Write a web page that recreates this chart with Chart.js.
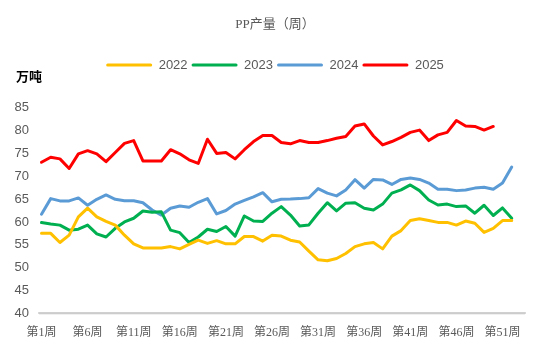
<!DOCTYPE html>
<html>
<head>
<meta charset="utf-8">
<script src="https://cdn.jsdelivr.net/npm/chart.js@4"></script>
<style>html,body{margin:0;padding:0;background:#fff;}</style>
</head>
<body>
<canvas id="c" width="550" height="356"></canvas>
<script>
// ---- data ----
const weeks = [1,2,3,4,5,6,7,8,9,10,11,12,13,14,15,16,17,18,19,20,21,22,23,24,25,26,
               27,28,29,30,31,32,33,34,35,36,37,38,39,40,41,42,43,44,45,46,47,48,49,50,51,52];
const tickWeeks = [1,6,11,16,21,26,31,36,41,46,51];
const yTicks = [40,45,50,55,60,65,70,75,80,85];
const seriesNames = ['2022','2023','2024','2025'];
const v2022 = [57.5,57.5,55.5,57.1,61.1,63.0,61.1,60.1,59.3,57.1,55.2,54.3,54.3,54.3,54.6,54.1,55.1,56.0,
               55.3,55.9,55.2,55.2,56.8,56.8,55.8,57.1,56.9,56.0,55.6,53.6,51.7,51.5,52.0,53.1,54.6,
               55.2,55.5,54.1,56.9,58.1,60.3,60.7,60.3,59.9,59.9,59.3,60.2,59.7,57.7,58.6,60.3,60.3];
const v2023 = [59.85,59.55,59.3,58.2,58.4,59.3,57.4,56.7,58.6,60.0,60.8,62.4,62.1,62.2,58.2,57.65,55.5,56.7,
               58.4,57.9,59.0,56.9,61.3,60.2,60.1,61.9,63.35,61.5,59.1,59.35,61.9,64.2,62.4,64.1,64.2,
               63.0,62.6,63.9,66.3,67.0,68.1,66.85,64.8,63.7,63.9,63.35,63.5,61.9,63.65,61.4,63.06,60.8];
const v2024 = [61.7,65.1,64.6,64.6,65.25,63.65,64.95,65.9,64.95,64.65,64.65,64.2,62.6,61.5,63.0,63.5,63.2,64.3,
               65.1,61.75,62.5,63.9,64.7,65.5,66.4,64.4,64.95,65.0,65.1,65.3,67.3,66.3,65.7,67.0,69.25,
               67.4,69.3,69.2,68.2,69.3,69.6,69.3,68.5,67.15,67.15,66.85,67.0,67.4,67.6,67.15,68.5,72.0];
const v2025 = [73.05,74.15,73.8,71.7,74.9,75.6,74.9,73.2,75.2,77.2,77.8,73.35,73.35,73.35,75.8,74.9,73.6,72.8,
               78.1,75.0,75.2,73.8,75.8,77.6,78.9,78.9,77.4,77.1,77.8,77.4,77.4,77.8,78.3,78.7,81.0,
               81.45,78.8,76.85,77.6,78.5,79.6,80.1,77.8,79.05,79.6,82.2,81.0,80.9,80.1,80.9];
const colors = ['#FFC000','#00B050','#5B9BD5','#FF0000'];

const datasets = [v2022, v2023, v2024, v2025].map((vals, i) => ({
  label: seriesNames[i],
  data: vals.map((v, j) => ({x: weeks[j], y: v})),
  borderColor: colors[i],
  backgroundColor: colors[i],
  borderWidth: 3,
  pointRadius: 0,
  pointHoverRadius: 0,
  tension: 0,
  fill: false,
  borderJoinStyle: 'round',
  borderCapStyle: 'round'
}));

const decorPlugin = {
  id: 'decor',
  afterDraw(chart) {
    const ctx = chart.ctx, ys = chart.scales.y, a = chart.chartArea;
    // category axis baseline at the bottom value of the value axis
    const yb = ys.getPixelForValue(yTicks[0]);
    ctx.save();
    ctx.fillStyle = '#cccccc';
    ctx.fillRect(a.left, yb - 1, a.right - a.left, 2);
    ctx.font = "bold 13px 'Noto Sans CJK SC'";
    ctx.fillStyle = '#000';
    ctx.textAlign = 'left';
    ctx.textBaseline = 'middle';
    ctx.fillText('万吨', 16, 76);
    ctx.restore();
  }
};
const layoutTweakPlugin = {
  id: 'layoutTweak',
  beforeLayout(chart) {
    const lg = chart.legend;
    if (lg && !lg._patched) {
      const f = lg.fit;
      lg.fit = function () { f.call(this); this.height = 53.1; };
      lg._patched = true;
    }
  },
  afterLayout(chart) {
    // centre title and legend on the full canvas width
    const shift = 12.5;
    [chart.titleBlock, chart.legend].forEach(b => {
      if (b) { b.left += shift; b.right += shift; }
    });
    if (chart.legend && chart.legend.adjustHitBoxes) chart.legend.adjustHitBoxes();
  }
};

new Chart(document.getElementById('c'), {
  type: 'line',
  data: { datasets },
  plugins: [decorPlugin, layoutTweakPlugin],
  options: {
    responsive: false,
    animation: false,
    layout: { padding: { left: 0, right: 25, top: 0, bottom: 0 } },
    plugins: {
      title: {
        display: true,
        text: 'PP产量（周）',
        color: '#595959',
        font: { family: "'Liberation Serif','Noto Sans CJK SC'", size: 13, weight: 'normal' },
        padding: { top: 17, bottom: 22 }
      },
      legend: {
        display: true,
        position: 'top',
        labels: {
          boxWidth: 46,
          boxHeight: 3,
          padding: 4,
          color: '#595959',
          font: { family: "'Liberation Sans'", size: 13 },
          generateLabels(chart) {
            const items = Chart.defaults.plugins.legend.labels.generateLabels(chart);
            items.forEach(it => { it.lineWidth = 0; it.fillStyle = it.strokeStyle; it.borderRadius = 1.5; });
            return items;
          }
        }
      },
      tooltip: { enabled: false }
    },
    scales: {
      x: {
        type: 'linear',
        min: 0.73,
        max: 53.44,
        grid: { display: false, drawTicks: false },
        border: { display: true, color: '#d9d9d9', width: 2 },
        afterBuildTicks(s) { s.ticks = tickWeeks.map(v => ({ value: v })); },
        afterFit(s) { s.height = 42.7; },
        ticks: {
          autoSkip: false,
          maxRotation: 0,
          minRotation: 0,
          padding: 12,
          color: '#595959',
          font: { family: "'Liberation Serif','Noto Sans CJK SC'", size: 12 },
          callback: (v) => '第' + v + '周'
        }
      },
      y: {
        min: 40,
        max: 85,
        grid: { display: false, drawTicks: false },
        border: { display: false },
        afterBuildTicks(s) { s.ticks = yTicks.map(v => ({ value: v })); },
        afterFit(s) { s.width = 39; },
        ticks: {
          autoSkip: false,
          padding: 10,
          color: '#595959',
          font: { family: "'Liberation Sans'", size: 13 }
        }
      }
    }
  }
});
</script>
</body>
</html>
